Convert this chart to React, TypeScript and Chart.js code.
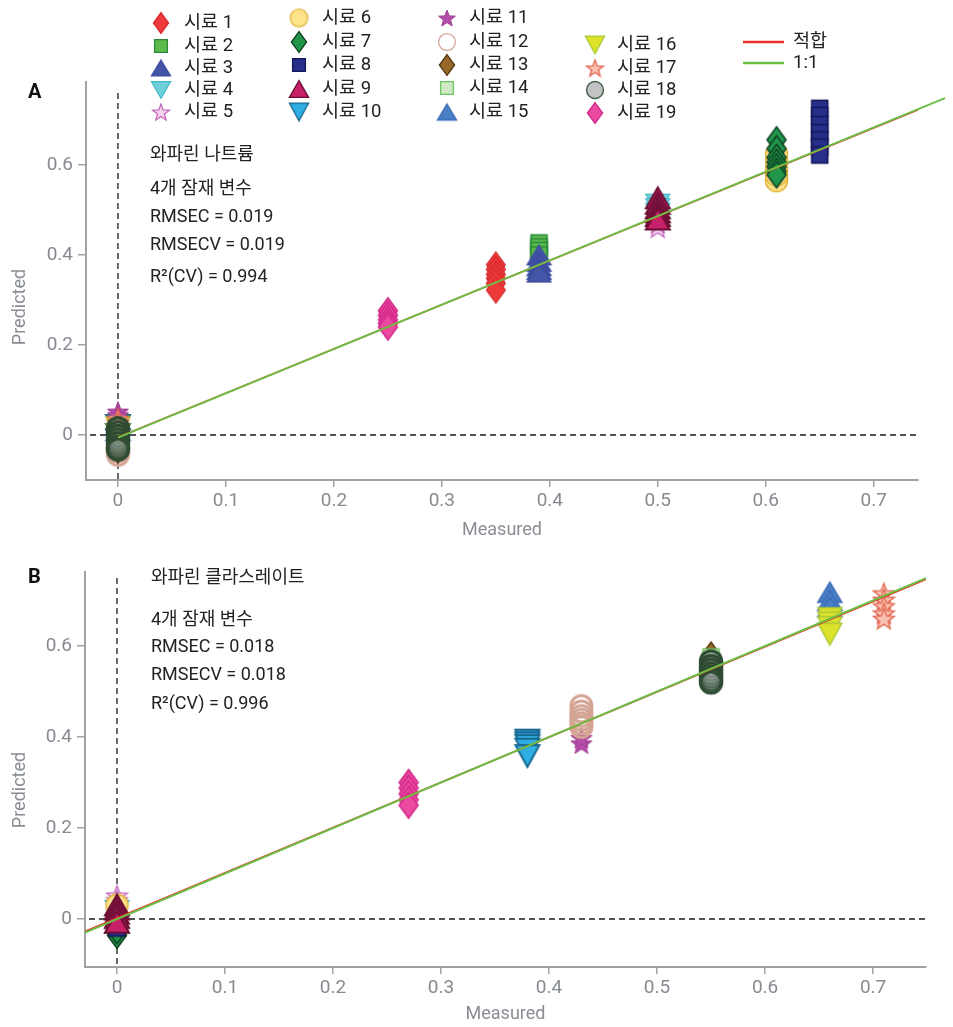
import React, { useEffect, useRef } from 'react';
import { Chart, registerables } from 'chart.js';

Chart.register(...registerables);

const FONT = 'Roboto, "Noto Sans CJK KR", "Noto Sans", sans-serif';

// ---------- data ----------
const sampleLabels = [
  '시료 1', '시료 2', '시료 3', '시료 4', '시료 5', '시료 6', '시료 7', '시료 8', '시료 9', '시료 10',
  '시료 11', '시료 12', '시료 13', '시료 14', '시료 15', '시료 16', '시료 17', '시료 18', '시료 19',
];
const lineLabels = ['적합', '1:1'];
const xTickValues = [0, 0.1, 0.2, 0.3, 0.4, 0.5, 0.6, 0.7];
const yTickValues = [0, 0.2, 0.4, 0.6];

// Panel A: warfarin sodium
const measuredA = [0.35, 0.39, 0.39, 0.5, 0.5, 0.61, 0.61, 0.65, 0.5, 0, 0, 0, 0, 0, 0, 0, 0, 0, 0.25];
const predictedA = [
  [0.378, 0.368, 0.357, 0.348, 0.337, 0.322],
  [0.427, 0.418, 0.41, 0.4],
  [0.4, 0.386, 0.376, 0.368, 0.362],
  [0.512, 0.502, 0.492],
  [0.462, 0.472],
  [0.565, 0.578, 0.592, 0.61, 0.624],
  [0.656, 0.636, 0.617, 0.606, 0.596, 0.586, 0.578],
  [0.726, 0.71, 0.69, 0.672, 0.656, 0.64, 0.622],
  [0.527, 0.515, 0.505, 0.496, 0.488, 0.48],
  [0.02, 0.0, -0.012],
  [0.052, 0.044],
  [-0.044, -0.036, -0.028],
  [-0.033, -0.022],
  [0.004, 0.012],
  [0.022, 0.01],
  [0.016, 0.0],
  [0.036, 0.028, 0.02],
  [0.015, 0.006, -0.002, -0.01, -0.018, -0.026, -0.032],
  [0.276, 0.266, 0.256, 0.248, 0.24],
];
const statsA = ['와파린 나트륨', '4개 잠재 변수', 'RMSEC = 0.019', 'RMSECV = 0.019', 'R²(CV) = 0.994'];
const fitA = { slope: 0.982, intercept: -0.005 };
const unityA = { slope: 0.985, intercept: -0.006 };
const lineRangeA = { fitEnd: 0.742, unityEnd: 0.766, start: 0 };

// Panel B: warfarin clathrate
const measuredB = [0, 0, 0, 0, 0, 0, 0, 0, 0, 0.38, 0.43, 0.43, 0.55, 0.55, 0.66, 0.66, 0.71, 0.55, 0.27];
const predictedB = [
  [0.01, -0.008],
  [0.004, 0.012],
  [0.0, -0.01],
  [0.018, -0.014],
  [0.052, 0.042],
  [0.03, -0.02],
  [-0.036, -0.026],
  [-0.02, -0.008],
  [0.031, 0.022, 0.013, 0.004, -0.007],
  [0.392, 0.386, 0.38, 0.372, 0.358],
  [0.386, 0.398],
  [0.468, 0.456, 0.446, 0.438, 0.43, 0.422],
  [0.58],
  [0.576],
  [0.718, 0.7, 0.686],
  [0.66, 0.65, 0.64, 0.626],
  [0.716, 0.702, 0.688, 0.672, 0.66],
  [0.566, 0.556, 0.548, 0.54, 0.533, 0.526, 0.52],
  [0.3, 0.288, 0.275, 0.262, 0.25],
];
const statsB = ['와파린 클라스레이트', '4개 잠재 변수', 'RMSEC = 0.018', 'RMSECV = 0.018', 'R²(CV) = 0.996'];
const fitB = { slope: 0.994, intercept: 0.002 };
const unityB = { slope: 1, intercept: 0 };

// ---------- styles ----------
type MarkerSpec = {
  shape: string; w: number; h: number; fill: string; stroke: string; lw: number;
  legendFill?: string; legendStroke?: string; legendLw?: number;
};
const markerSpecs: MarkerSpec[] = [
  { shape: 'diamond', w: 19, h: 26, fill: '#ee3a3a', stroke: '#d42a2e', lw: 1.2 },
  { shape: 'square', w: 16, h: 16, fill: '#5dbb4c', stroke: '#2a8a3a', lw: 1.5 },
  { shape: 'tri', w: 24, h: 20, fill: '#4455a8', stroke: '#3b4b9e', lw: 1.2 },
  { shape: 'tridown', w: 24, h: 21, fill: '#6fd0da', stroke: '#3fb8c6', lw: 1.2 },
  { shape: 'star', w: 22, h: 22, fill: '#f4d2ec', stroke: '#c063b8', lw: 1.2 },
  { shape: 'circle', w: 22, h: 22, fill: '#fde38a', stroke: '#e2b43c', lw: 1.5 },
  { shape: 'diamond', w: 19, h: 26, fill: '#21964a', stroke: '#0f3f22', lw: 1.5 },
  { shape: 'square', w: 16, h: 16, fill: '#282f8a', stroke: '#121757', lw: 1.5 },
  { shape: 'tri', w: 24, h: 21, fill: '#c9206a', stroke: '#6a0f33', lw: 2 },
  { shape: 'tridown', w: 24, h: 22, fill: '#2eaee2', stroke: '#1a6890', lw: 2 },
  { shape: 'star', w: 22, h: 22, fill: '#b54ea9', stroke: '#9d3b93', lw: 1 },
  { shape: 'circle', w: 21, h: 21, fill: 'rgba(255,255,255,0)', stroke: '#d4a494', lw: 3, legendFill: '#ffffff', legendLw: 1.3 },
  { shape: 'diamond', w: 19, h: 26, fill: '#98682a', stroke: '#553810', lw: 1.5 },
  { shape: 'square', w: 16, h: 16, fill: '#cfe8c6', stroke: '#6cc25e', lw: 1.5 },
  { shape: 'tri', w: 24, h: 20, fill: '#4b80c7', stroke: '#3a6cba', lw: 1.5 },
  { shape: 'tridown', w: 24, h: 22, fill: '#dde22a', stroke: '#a9c83a', lw: 1.5 },
  { shape: 'star', w: 22, h: 22, fill: '#f9c2b2', stroke: '#e0604a', lw: 1.3 },
  { shape: 'circle', w: 21, h: 21, fill: 'rgba(190,192,194,0.15)', stroke: '#2f4c33', lw: 3.5, legendFill: '#c1c3c5', legendStroke: '#45624a', legendLw: 1.5 },
  { shape: 'diamond', w: 19, h: 26, fill: '#ea4aa0', stroke: '#d3288a', lw: 1.5 },
];
const FIT_COLOR = '#e8322b';
const UNITY_COLOR = '#6cbf44';
const AXIS_COLOR = '#9ea2a7';
const TICK_TEXT = '#878b91';

function makeMarker(m: MarkerSpec, k: number, legend: boolean): HTMLCanvasElement {
  const w = m.w * k;
  const h = m.h * k;
  const lw = legend ? (m.legendLw ?? Math.min(m.lw, 1.3)) : m.lw;
  const pad = lw + 2;
  const c = document.createElement('canvas');
  c.width = Math.ceil(w + pad * 2);
  c.height = Math.ceil(h + pad * 2);
  const ctx = c.getContext('2d')!;
  const cx = c.width / 2;
  const cy = c.height / 2;
  ctx.beginPath();
  if (m.shape === 'diamond') {
    ctx.moveTo(cx, cy - h / 2); ctx.lineTo(cx + w / 2, cy); ctx.lineTo(cx, cy + h / 2); ctx.lineTo(cx - w / 2, cy); ctx.closePath();
  } else if (m.shape === 'square') {
    ctx.rect(cx - w / 2, cy - h / 2, w, h);
  } else if (m.shape === 'tri') {
    ctx.moveTo(cx, cy - h / 2); ctx.lineTo(cx + w / 2, cy + h / 2); ctx.lineTo(cx - w / 2, cy + h / 2); ctx.closePath();
  } else if (m.shape === 'tridown') {
    ctx.moveTo(cx - w / 2, cy - h / 2); ctx.lineTo(cx + w / 2, cy - h / 2); ctx.lineTo(cx, cy + h / 2); ctx.closePath();
  } else if (m.shape === 'star') {
    const R = w / 2;
    const r = R * 0.42;
    const oy = cy + R * 0.1;
    for (let i = 0; i < 10; i++) {
      const ang = -Math.PI / 2 + (i * Math.PI) / 5;
      const rr = i % 2 === 0 ? R : r;
      const px = cx + rr * Math.cos(ang);
      const py = oy + rr * Math.sin(ang);
      if (i === 0) ctx.moveTo(px, py); else ctx.lineTo(px, py);
    }
    ctx.closePath();
  } else {
    ctx.arc(cx, cy, w / 2, 0, Math.PI * 2);
  }
  ctx.fillStyle = legend && m.legendFill ? m.legendFill : m.fill;
  ctx.fill();
  ctx.lineWidth = lw;
  ctx.lineJoin = 'miter';
  ctx.strokeStyle = legend && m.legendStroke ? m.legendStroke : m.stroke;
  ctx.stroke();
  return c;
}

type Panel = {
  letter: string;
  measured: number[];
  predicted: number[][];
  stats: string[];
  fit: { slope: number; intercept: number };
  unity: { slope: number; intercept: number };
  fitStart: number; fitEnd: number; unityStart: number; unityEnd: number; unityClip: boolean;
  xMin: number; xMax: number; yMin: number; yMax: number;
  canvasH: number; padTop: number; padRight: number; yAxisW: number; xAxisH: number;
  letterPos: [number, number];
  statsX: number; statsY: number[];
  measuredY: number; predictedX: number; predictedY: number;
  vDashTop: number;
  legend: boolean;
};

const fmt = (v: number) => (v === 0 ? '0' : String(Math.round(v * 10) / 10));

function buildConfig(p: Panel, markers: HTMLCanvasElement[], legendMarkers: HTMLCanvasElement[]) {
  const scatterSets = p.measured.map((mx, i) => ({
    type: 'scatter' as const,
    label: sampleLabels[i],
    data: p.predicted[i].map((py) => ({ x: mx, y: py })),
    pointStyle: markers[i],
    pointRadius: 10,
    order: 20 - i,
  }));
  const lineSets = [
    {
      type: 'line' as const,
      label: lineLabels[1],
      data: [
        { x: p.unityStart, y: p.unity.slope * p.unityStart + p.unity.intercept },
        { x: p.unityEnd, y: p.unity.slope * p.unityEnd + p.unity.intercept },
      ],
      borderColor: UNITY_COLOR,
      borderWidth: 2,
      pointRadius: 0,
      showLine: true,
      clip: p.unityClip ? undefined : false,
      order: -2,
    },
    {
      type: 'line' as const,
      label: lineLabels[0],
      data: [
        { x: p.fitStart, y: p.fit.slope * p.fitStart + p.fit.intercept },
        { x: p.fitEnd, y: p.fit.slope * p.fitEnd + p.fit.intercept },
      ],
      borderColor: FIT_COLOR,
      borderWidth: 1.6,
      pointRadius: 0,
      showLine: true,
      order: -1,
    },
  ];

  const plugin = {
    id: 'panel' + p.letter,
    beforeDatasetsDraw(chart: any) {
      const { ctx, chartArea: a, scales } = chart;
      const x0 = scales.x.getPixelForValue(0);
      const y0 = scales.y.getPixelForValue(0);
      ctx.save();
      ctx.setLineDash([6, 4]);
      ctx.strokeStyle = '#1a1a1a';
      ctx.lineWidth = 1.3;
      ctx.beginPath();
      ctx.moveTo(a.left + 4, y0);
      ctx.lineTo(a.right, y0);
      ctx.moveTo(x0, p.vDashTop);
      ctx.lineTo(x0, a.bottom);
      ctx.stroke();
      ctx.restore();
    },
    afterDraw(chart: any) {
      const { ctx } = chart;
      ctx.save();
      ctx.textBaseline = 'middle';
      ctx.textAlign = 'left';
      // panel letter
      ctx.fillStyle = '#111';
      ctx.font = `bold 20px ${FONT}`;
      ctx.fillText(p.letter, p.letterPos[0], p.letterPos[1]);
      // stats
      ctx.font = `18px ${FONT}`;
      ctx.fillStyle = '#222';
      p.stats.forEach((s, i) => ctx.fillText(s, p.statsX, p.statsY[i]));
      // axis titles
      ctx.fillStyle = '#8a8e94';
      ctx.textAlign = 'center';
      ctx.fillText('Measured', (chart.chartArea.left + chart.chartArea.right) / 2, p.measuredY);
      ctx.save();
      ctx.translate(p.predictedX, p.predictedY);
      ctx.rotate(-Math.PI / 2);
      ctx.fillText('Predicted', 0, 0);
      ctx.restore();
      if (p.legend) {
        const cols = [
          { mx: 161, tx: 184, ys: [23, 46, 68, 90, 112] },
          { mx: 299, tx: 322, ys: [18, 42, 65, 89, 112] },
          { mx: 447, tx: 469, ys: [18, 42, 65, 88, 112] },
          { mx: 595, tx: 617, ys: [45, 68, 90, 113] },
        ];
        ctx.textAlign = 'left';
        ctx.font = `18.5px ${FONT}`;
        ctx.fillStyle = '#222';
        let idx = 0;
        cols.forEach((c) => {
          c.ys.forEach((yy) => {
            const mk = legendMarkers[idx];
            ctx.drawImage(mk, c.mx - mk.width / 2, yy - mk.height / 2);
            ctx.fillText(sampleLabels[idx], c.tx, yy);
            idx++;
          });
        });
        const lines = [
          { color: FIT_COLOR, y: 42, label: lineLabels[0] },
          { color: UNITY_COLOR, y: 63, label: lineLabels[1] },
        ];
        lines.forEach((l) => {
          ctx.strokeStyle = l.color;
          ctx.lineWidth = 2.5;
          ctx.beginPath();
          ctx.moveTo(743, l.y);
          ctx.lineTo(784, l.y);
          ctx.stroke();
          ctx.fillText(l.label, 793, l.y);
        });
      }
      ctx.restore();
    },
  };

  return {
    type: 'scatter' as const,
    data: { datasets: [...scatterSets, ...lineSets] as any[] },
    options: {
      animation: false as const,
      responsive: false,
      maintainAspectRatio: false,
      events: [] as any[],
      layout: { padding: { top: p.padTop, right: p.padRight, bottom: 0, left: 0 } },
      plugins: { legend: { display: false }, tooltip: { enabled: false } },
      scales: {
        x: {
          type: 'linear' as const,
          min: p.xMin,
          max: p.xMax,
          afterBuildTicks: (s: any) => { s.ticks = xTickValues.map((v) => ({ value: v })); },
          afterFit: (s: any) => { s.height = p.xAxisH; },
          grid: { display: true, drawOnChartArea: false, drawTicks: true, tickLength: 7, color: AXIS_COLOR, lineWidth: 1.5 },
          border: { display: true, color: AXIS_COLOR, width: 2 },
          ticks: { color: TICK_TEXT, font: { family: FONT, size: 19 }, padding: 3, maxRotation: 0, autoSkip: false, callback: (v: any) => fmt(Number(v)) },
        },
        y: {
          type: 'linear' as const,
          min: p.yMin,
          max: p.yMax,
          afterBuildTicks: (s: any) => { s.ticks = yTickValues.map((v) => ({ value: v })); },
          afterFit: (s: any) => { s.width = p.yAxisW; },
          grid: { display: true, drawOnChartArea: false, drawTicks: true, tickLength: 8, color: AXIS_COLOR, lineWidth: 1.5 },
          border: { display: true, color: AXIS_COLOR, width: 2 },
          ticks: { color: TICK_TEXT, font: { family: FONT, size: 19 }, padding: 5, autoSkip: false, callback: (v: any) => fmt(Number(v)) },
        },
      },
    },
    plugins: [plugin],
  };
}

const panelA: Panel = {
  letter: 'A', measured: measuredA, predicted: predictedA, stats: statsA,
  fit: fitA, unity: unityA,
  fitStart: lineRangeA.start, fitEnd: lineRangeA.fitEnd, unityStart: lineRangeA.start, unityEnd: lineRangeA.unityEnd, unityClip: false,
  xMin: -0.0296, xMax: 0.741, yMin: -0.1, yMax: 0.7844,
  canvasH: 545, padTop: 82, padRight: 35, yAxisW: 86, xAxisH: 65,
  letterPos: [28, 93], statsX: 150, statsY: [155, 189, 217, 245, 277],
  measuredY: 530, predictedX: 20, predictedY: 307, vDashTop: 93,
  legend: true,
};

const panelB: Panel = {
  letter: 'B', measured: measuredB, predicted: predictedB, stats: statsB,
  fit: fitB, unity: unityB,
  fitStart: -0.0296, fitEnd: 0.749, unityStart: -0.0296, unityEnd: 0.749, unityClip: true,
  xMin: -0.0296, xMax: 0.749, yMin: -0.1055, yMax: 0.7626,
  canvasH: 482, padTop: 27, padRight: 27, yAxisW: 85, xAxisH: 60,
  letterPos: [28, 578 - 545], statsX: 151, statsY: [578 - 545, 620 - 545, 647 - 545, 675 - 545, 704 - 545],
  measuredY: 1014 - 545, predictedX: 20, predictedY: 790 - 545, vDashTop: 578 - 545,
  legend: false,
};

export default function App() {
  const refA = useRef<HTMLCanvasElement | null>(null);
  const refB = useRef<HTMLCanvasElement | null>(null);

  useEffect(() => {
    const markers = markerSpecs.map((m) => makeMarker(m, 1, false));
    const legendMarkers = markerSpecs.map((m) => makeMarker(m, 0.8, true));
    const charts: Chart[] = [];
    if (refA.current) charts.push(new Chart(refA.current, buildConfig(panelA, markers, legendMarkers) as any));
    if (refB.current) charts.push(new Chart(refB.current, buildConfig(panelB, markers, legendMarkers) as any));
    return () => charts.forEach((c) => c.destroy());
  }, []);

  return (
    <div style={{ position: 'absolute', left: 0, top: 0, width: 953, height: 1027, background: '#fff' }}>
      <canvas ref={refA} width={953} height={panelA.canvasH} style={{ position: 'absolute', left: 0, top: 0, width: 953, height: panelA.canvasH }} />
      <canvas ref={refB} width={953} height={panelB.canvasH} style={{ position: 'absolute', left: 0, top: panelA.canvasH, width: 953, height: panelB.canvasH }} />
    </div>
  );
}
